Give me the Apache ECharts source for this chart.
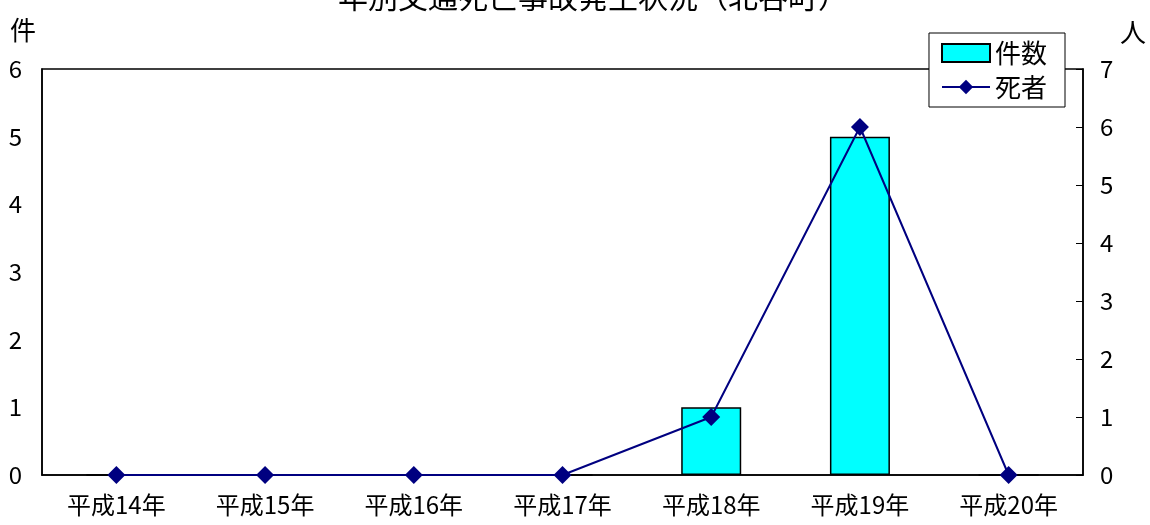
<!DOCTYPE html>
<html><head><meta charset="utf-8">
<script src="https://cdn.jsdelivr.net/npm/echarts@6/dist/echarts.min.js"></script>
<style>html,body{margin:0;padding:0;background:#fff}#c{width:1150px;height:525px}</style>
</head><body><div id="c"></div>
<script>
const categories = ['平成14年','平成15年','平成16年','平成17年','平成18年','平成19年','平成20年'];
const incidents = [0,0,0,0,1,5,0];
const deaths = [0,0,0,0,1,6,0];
const titleText = '年別交通死亡事故発生状況（北谷町）';
const FONT = '"Noto Sans CJK JP", sans-serif';
const chart = echarts.init(document.getElementById('c'));
chart.setOption({
  animation:false,
  backgroundColor:'#fff',
  title:{text:titleText,left:333,top:-23,textStyle:{fontFamily:FONT,fontSize:30,fontWeight:'normal',color:'#000'}},
  grid:{left:42,right:67,top:69,bottom:50,show:true,borderColor:'#000',borderWidth:1.5},
  legend:{right:85,top:33,orient:'vertical',itemGap:8,padding:[7,18,7,12],itemGap:8,
    borderColor:'#000',borderWidth:1,backgroundColor:'#fff',itemWidth:48,itemHeight:18,
    textStyle:{fontFamily:FONT,fontSize:26,color:'#000'},
    data:[{name:'件数',icon:'rect'},{name:'死者'}]},
  xAxis:{type:'category',data:categories,
    axisLine:{lineStyle:{color:'#000',width:1.5}},axisTick:{show:false},
    axisLabel:{fontFamily:FONT,fontSize:24,color:'#000',margin:18}},
  yAxis:[
    {type:'value',min:0,max:6,interval:1,name:'件',nameGap:26,nameLocation:'end',
     nameTextStyle:{fontFamily:FONT,fontSize:26,color:'#000',align:'right',padding:[0,6,0,0]},
     axisLine:{show:true,lineStyle:{color:'#000',width:1.5}},axisTick:{show:false},splitLine:{show:false},
     axisLabel:{fontFamily:FONT,fontSize:24,color:'#000',margin:20}},
    {type:'value',min:0,max:7,interval:1,name:'人',nameGap:16,nameLocation:'end',
     nameTextStyle:{fontFamily:FONT,fontSize:26,color:'#000',align:'left',padding:[0,0,8,37]},
     axisLine:{show:true,lineStyle:{color:'#000',width:1.5}},
     axisTick:{show:true,inside:true,length:7,lineStyle:{color:'#000'}},splitLine:{show:false},
     axisLabel:{fontFamily:FONT,fontSize:24,color:'#000',margin:17}}
  ],
  series:[
    {name:'件数',type:'bar',yAxisIndex:0,data:incidents,barWidth:60,
     itemStyle:{color:'#00FFFF',borderColor:'#000',borderWidth:1.5}},
    {name:'死者',type:'line',yAxisIndex:1,data:deaths,symbol:'diamond',symbolSize:18,
     lineStyle:{color:'#000080',width:2},itemStyle:{color:'#000080'}}
  ]
});
</script></body></html>
